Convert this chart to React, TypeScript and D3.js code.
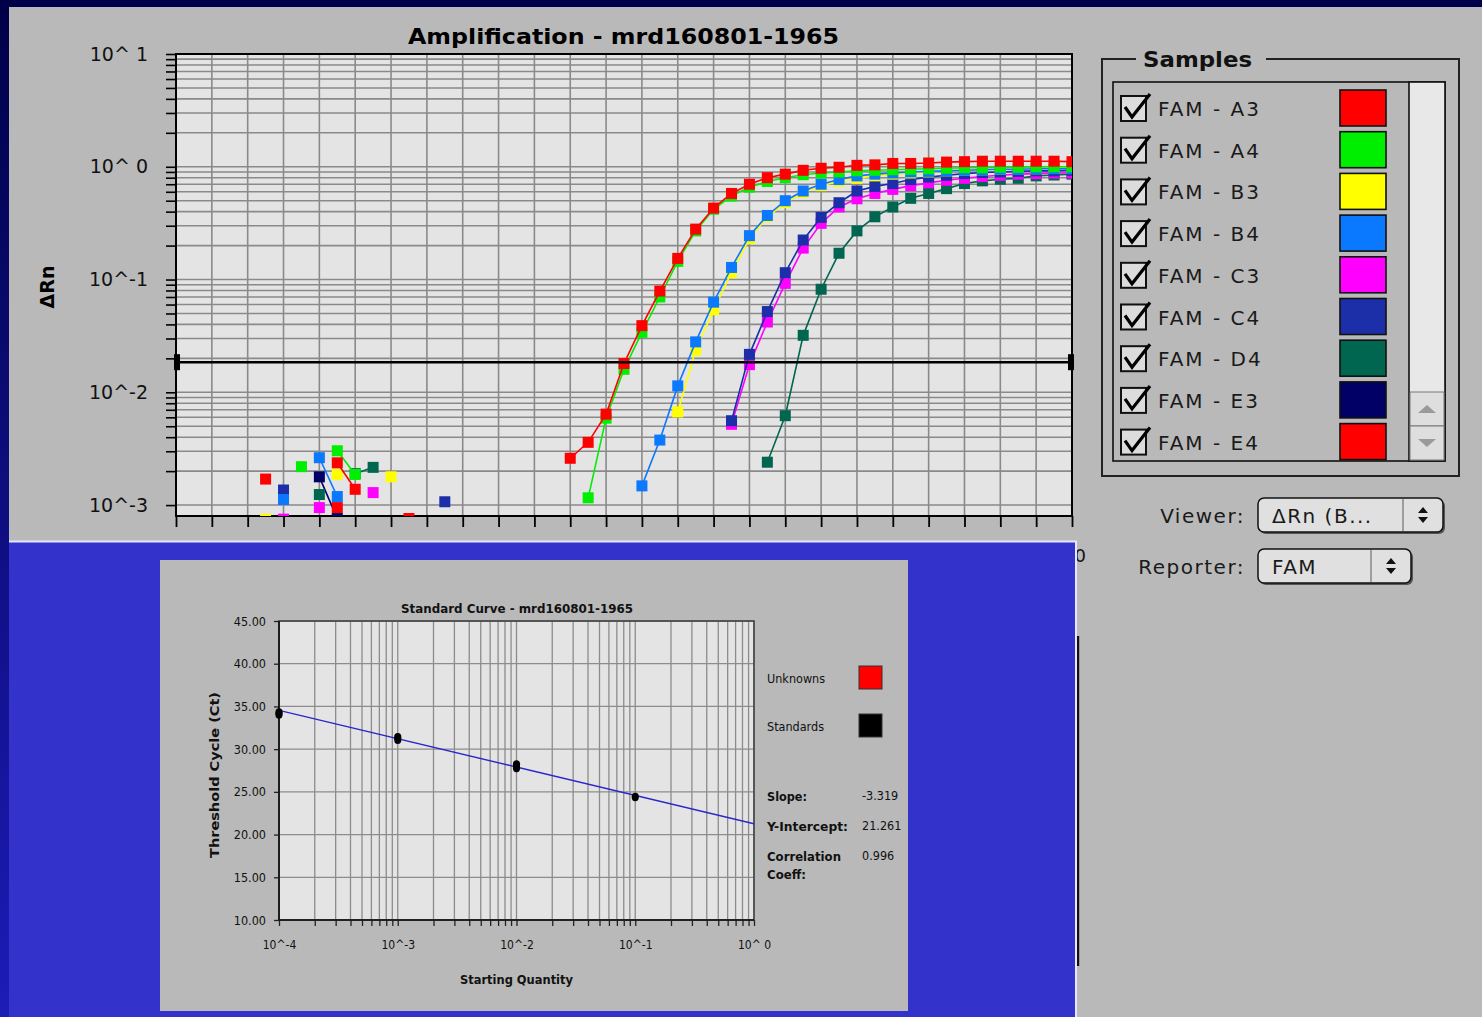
import * as d3 from "d3";
import React, { useRef, useEffect } from "react";

// ---- amplification plot data: [cycle, ΔRn] ----
const sampleNames = ["FAM - A3", "FAM - A4", "FAM - B3", "FAM - B4", "FAM - C3", "FAM - C4", "FAM - D4", "FAM - E3", "FAM - E4"];
const sampleColors = ["#ff0000", "#00ee00", "#ffff00", "#0a78ff", "#ff00ff", "#1d2fa8", "#006650", "#000066", "#ff0000"];

const ampA3 = [[5, .0017], [9, .00237], [10, .00138], [22, .0026], [23, .0036], [24, .0064], [25, .018], [26, .039], [27, .079], [28, .154], [29, .28], [30, .43], [31, .58], [32, .70], [33, .80], [34, .86], [35, .93], [36, .97], [37, .99], [38, 1.03], [39, 1.04], [40, 1.07], [41, 1.07], [42, 1.08], [43, 1.10], [44, 1.11], [45, 1.12], [46, 1.12], [47, 1.12], [48, 1.12], [49, 1.12], [50, 1.11]];
const ampA4 = [[7, .00219], [9, .00303], [10, .00187], [23, .00116], [24, .0059], [25, .016], [26, .034], [27, .070], [28, .145], [29, .27], [30, .42], [31, .55], [32, .66], [33, .74], [34, .80], [35, .85], [36, .88], [37, .90], [38, .92], [39, .93], [40, .94], [41, .95], [42, .96], [43, .97], [44, .98], [45, .98], [46, .99], [47, .99], [48, 1.0], [49, 1.0], [50, 1.0]];
const ampB3 = [[5, .00075], [9, .00187], [12, .00178], [28, .0067], [29, .0237], [30, .054], [31, .115], [32, .23], [33, .36], [34, .48], [35, .59], [36, .68], [37, .74], [38, .79], [39, .83], [40, .86], [41, .88], [42, .90], [43, .92], [44, .93], [45, .94], [46, .95], [47, .96], [48, .96], [49, .97], [50, .97]];
const ampB4 = [[6, .00112], [8, .00263], [9, .00119], [26, .00148], [27, .00377], [28, .0114], [29, .028], [30, .063], [31, .128], [32, .245], [33, .37], [34, .50], [35, .61], [36, .70], [37, .77], [38, .83], [39, .86], [40, .88], [41, .90], [42, .91], [43, .92], [44, .93], [45, .94], [46, .95], [47, .95], [48, .96], [49, .96], [50, .96]];
const ampC3 = [[6, .00075], [8, .00095], [11, .00129], [31, .0052], [32, .0176], [33, .042], [34, .0925], [35, .19], [36, .315], [37, .44], [38, .52], [39, .58], [40, .63], [41, .68], [42, .72], [43, .76], [44, .79], [45, .82], [46, .84], [47, .86], [48, .87], [49, .88], [50, .88]];
const ampC4 = [[6, .00136], [15, .00107], [31, .0056], [32, .0217], [33, .052], [34, .115], [35, .224], [36, .356], [37, .48], [38, .61], [39, .67], [40, .71], [41, .77], [42, .81], [43, .84], [44, .87], [45, .89], [46, .90], [47, .91], [48, .92], [49, .92], [50, .93]];
const ampD4 = [[8, .00124], [10, .0019], [11, .00216], [33, .0024], [34, .0062], [35, .032], [36, .082], [37, .171], [38, .27], [39, .36], [40, .44], [41, .525], [42, .58], [43, .64], [44, .71], [45, .75], [46, .775], [47, .79], [48, .83], [49, .845], [50, .86]];
const ampE3 = [[8, .00178], [9, .00076]];
const ampE4 = [[9, .00095], [13, .00076]];

const ampSeries = [ampA3, ampA4, ampB3, ampB4, ampC3, ampC4, ampD4, ampE3, ampE4];
const drawOrder = [7, 8, 6, 4, 5, 2, 3, 1, 0];
const ampThreshold = 0.0185;
const ampYLabels = ["10^-3", "10^-2", "10^-1", "10^ 0", "10^ 1"];
const cycleTicks = d3.range(0, 51, 2);

// ---- standard curve data ----
const stdQuantity = [1e-4, 1e-4, 1e-3, 1e-3, 1e-2, 1e-2, 1e-1];
const stdCt = [34.05, 34.3, 31.1, 31.4, 27.8, 28.2, 24.4];
const stdSlope = -3.319;
const stdIntercept = 21.261;
const stdCorr = 0.996;
const stdYTicks = [10, 15, 20, 25, 30, 35, 40, 45];
const stdXLabels = ["10^-4", "10^-3", "10^-2", "10^-1", "10^ 0"];

const FONT = "'DejaVu Sans', Verdana, sans-serif";
const NARROW = "'DejaVu Sans Condensed', 'DejaVu Sans', sans-serif";

const App = () => {
    const svgRef = useRef<SVGSVGElement>(null);

    useEffect(() => {
        const svg = d3.select(svgRef.current);
        svg.selectAll("*").remove();

        const defs = svg.append("defs");
        const grad = defs.append("linearGradient").attr("id", "edge").attr("x1", 0).attr("x2", 0).attr("y1", 0).attr("y2", 1);
        grad.append("stop").attr("offset", "0%").attr("stop-color", "#000048");
        grad.append("stop").attr("offset", "100%").attr("stop-color", "#1c1cb8");

        // window background
        svg.append("rect").attr("width", 1482).attr("height", 1017).attr("fill", "#b9b9b9");

        // ============ amplification plot ============
        const mL = 176, mR = 1072, mT = 54, mB = 516;
        const x = d3.scaleLinear().domain([0, 50]).range([mL, mR]);
        const y = d3.scaleLog().domain([0.0008, 10]).range([mB, mT]);

        const yTicks: number[] = [];
        for (let k = -3; k <= 0; k++) for (let m = 1; m <= 9; m++) yTicks.push(m * Math.pow(10, k));
        yTicks.push(10);

        svg.append("rect").attr("x", mL).attr("y", mT).attr("width", mR - mL).attr("height", mB - mT).attr("fill", "#e4e4e4");

        const grid = svg.append("g").attr("stroke", "#8a8a8a").attr("stroke-width", 1.6);
        grid.selectAll("line.h").data(yTicks).join("line").attr("class", "h")
            .attr("x1", mL).attr("x2", mR).attr("y1", d => y(d)).attr("y2", d => y(d));
        grid.selectAll("line.v").data(cycleTicks).join("line").attr("class", "v")
            .attr("x1", d => x(d)).attr("x2", d => x(d)).attr("y1", mT).attr("y2", mB);

        // y axis
        svg.append("g")
            .attr("transform", `translate(${mL},0)`)
            .call(d3.axisLeft(y).tickValues(yTicks).tickSize(10).tickPadding(18)
                .tickFormat(d => {
                    const l = Math.log10(+d);
                    return Math.abs(l - Math.round(l)) < 1e-9 ? ampYLabels[Math.round(l) + 3] : "";
                }))
            .call(g => g.select(".domain").remove())
            .call(g => g.selectAll(".tick line").attr("stroke", "#000").attr("stroke-width", 1.6))
            .call(g => g.selectAll(".tick text").attr("fill", "#111").style("font-size", "19px").style("font-family", FONT));

        // x axis (labels mostly hidden later by the overlay panel)
        svg.append("g")
            .attr("transform", `translate(0,${mB})`)
            .call(d3.axisBottom(x).tickValues(cycleTicks).tickSize(11).tickPadding(22)
                .tickFormat(d => (+d % 10 === 0 ? String(d) : "")))
            .call(g => g.select(".domain").remove())
            .call(g => g.selectAll(".tick line").attr("stroke", "#000").attr("stroke-width", 1.8))
            .call(g => g.selectAll(".tick text").attr("fill", "#111").attr("dx", 2).style("font-size", "18px").style("font-family", FONT));

        svg.append("rect").attr("x", mL).attr("y", mT).attr("width", mR - mL).attr("height", mB - mT)
            .attr("fill", "none").attr("stroke", "#000").attr("stroke-width", 2);

        // title + y label
        svg.append("text").attr("x", 408).attr("y", 44).attr("textLength", 431).attr("lengthAdjust", "spacingAndGlyphs")
            .style("font-family", FONT).style("font-weight", "bold").style("font-size", "21px").attr("fill", "#000")
            .text("Amplification - mrd160801-1965");
        svg.append("text").attr("transform", "translate(54,287) rotate(-90)").attr("text-anchor", "middle")
            .style("font-family", FONT).style("font-weight", "bold").style("font-size", "19px").attr("fill", "#000")
            .text("ΔRn");

        // series
        defs.append("clipPath").attr("id", "ampClip").append("rect")
            .attr("x", mL).attr("y", mT).attr("width", mR - mL).attr("height", mB - mT);
        const series = svg.append("g").attr("clip-path", "url(#ampClip)");
        const line = d3.line<[number, number | null]>()
            .defined(d => d[1] != null)
            .x(d => x(d[0]))
            .y(d => y(d[1] as number));
        drawOrder.forEach(i => {
            const pts = ampSeries[i];
            const lookup = new Map(pts.map(p => [p[0], p[1]]));
            const dense: [number, number | null][] = d3.range(0, 51).map(c => [c, lookup.has(c) ? (lookup.get(c) as number) : null]);
            const g = series.append("g");
            g.append("path").attr("d", line(dense)).attr("fill", "none")
                .attr("stroke", sampleColors[i]).attr("stroke-width", 1.6);
            g.selectAll("rect").data(pts).join("rect")
                .attr("x", d => x(d[0]) - 5.5).attr("y", d => y(d[1]) - 5.5)
                .attr("width", 11).attr("height", 11).attr("fill", sampleColors[i]);
        });

        // threshold
        const ty = y(ampThreshold);
        svg.append("line").attr("x1", mL).attr("x2", mR).attr("y1", ty).attr("y2", ty)
            .attr("stroke", "#000").attr("stroke-width", 2.4);
        [mL - 2, mR - 4].forEach(hx => {
            svg.append("rect").attr("x", hx).attr("y", ty - 8).attr("width", 6).attr("height", 16).attr("fill", "#000");
        });

        // ============ samples panel ============
        const panel = svg.append("g").style("font-family", FONT);
        panel.append("rect").attr("x", 1102).attr("y", 59).attr("width", 357).attr("height", 417)
            .attr("fill", "none").attr("stroke", "#222").attr("stroke-width", 2);
        panel.append("rect").attr("x", 1136).attr("y", 45).attr("width", 130).attr("height", 26).attr("fill", "#b9b9b9");
        panel.append("text").attr("x", 1143).attr("y", 67).attr("textLength", 109).attr("lengthAdjust", "spacingAndGlyphs")
            .style("font-weight", "bold").style("font-size", "22px").attr("fill", "#111").text("Samples");

        defs.append("clipPath").attr("id", "listClip").append("rect")
            .attr("x", 1113).attr("y", 82).attr("width", 296).attr("height", 379);
        const list = panel.append("g").attr("clip-path", "url(#listClip)");
        const rowY = d3.scaleLinear().domain([0, 1]).range([108, 149.7]);
        sampleNames.forEach((name, i) => {
            const cy = rowY(i);
            list.append("rect").attr("x", 1121).attr("y", cy - 12).attr("width", 25).attr("height", 25)
                .attr("fill", "#dcdcdc").attr("stroke", "#111").attr("stroke-width", 2);
            list.append("path").attr("d", `M${1125},${cy - 1} L${1132},${cy + 9} L${1150},${cy - 14}`)
                .attr("fill", "none").attr("stroke", "#000").attr("stroke-width", 3.2);
            list.append("text").attr("x", 1158).attr("y", cy + 8).style("font-size", "20px")
                .style("letter-spacing", "2px").attr("fill", "#1a1a1a").text(name);
            list.append("rect").attr("x", 1340).attr("y", cy - 18).attr("width", 46).attr("height", 36)
                .attr("fill", sampleColors[i]).attr("stroke", "#111").attr("stroke-width", 1.6);
        });
        panel.append("rect").attr("x", 1113).attr("y", 82).attr("width", 332).attr("height", 379)
            .attr("fill", "none").attr("stroke", "#111").attr("stroke-width", 1.6);
        // scrollbar
        panel.append("rect").attr("x", 1409).attr("y", 82).attr("width", 36).attr("height", 379)
            .attr("fill", "#e8e8e8").attr("stroke", "#111").attr("stroke-width", 1.6);
        [[392, -1], [426, 1]].forEach(([by, dir]) => {
            panel.append("rect").attr("x", 1410).attr("y", by).attr("width", 34).attr("height", 34)
                .attr("fill", "#dedede").attr("stroke", "#777").attr("stroke-width", 1);
            const cx = 1427, cyy = by + 17;
            panel.append("path")
                .attr("d", `M${cx - 9},${cyy - dir * 4} L${cx + 9},${cyy - dir * 4} L${cx},${cyy + dir * 4} Z`)
                .attr("fill", "#9a9a9a");
        });

        // popup menus
        const popup = (label: string, value: string, yTop: number, xEnd: number) => {
            const h = 34, x0 = 1258;
            panel.append("text").attr("x", 1245).attr("y", yTop + 25).attr("text-anchor", "end")
                .style("font-size", "20px").style("letter-spacing", "1.5px").attr("fill", "#1a1a1a").text(label);
            panel.append("rect").attr("x", x0 + 2).attr("y", yTop + 2).attr("width", xEnd - x0).attr("height", h)
                .attr("rx", 6).attr("fill", "#555");
            panel.append("rect").attr("x", x0).attr("y", yTop).attr("width", xEnd - x0).attr("height", h)
                .attr("rx", 6).attr("fill", "#e0e0e0").attr("stroke", "#111").attr("stroke-width", 1.5);
            panel.append("line").attr("x1", xEnd - 40).attr("x2", xEnd - 40).attr("y1", yTop + 1).attr("y2", yTop + h - 1)
                .attr("stroke", "#888").attr("stroke-width", 1.5);
            const ax = xEnd - 20, ay = yTop + h / 2;
            panel.append("path").attr("d", `M${ax - 5},${ay - 2} L${ax + 5},${ay - 2} L${ax},${ay - 8} Z M${ax - 5},${ay + 2} L${ax + 5},${ay + 2} L${ax},${ay + 8} Z`)
                .attr("fill", "#111");
            panel.append("text").attr("x", 1272).attr("y", yTop + 25).style("font-size", "20px")
                .style("letter-spacing", "1.5px").attr("fill", "#1a1a1a").text(value);
        };
        popup("Viewer:", "ΔRn (B...", 498, 1443);
        popup("Reporter:", "FAM", 549, 1411);

        // stray window frame line on the right
        svg.append("line").attr("x1", 1078).attr("x2", 1078).attr("y1", 636).attr("y2", 966)
            .attr("stroke", "#111").attr("stroke-width", 2.4);

        // ============ overlay panel with standard curve ============
        svg.append("rect").attr("x", 9).attr("y", 541).attr("width", 1067).attr("height", 476).attr("fill", "#3333cc");
        svg.append("path").attr("d", "M9,541.5 L1076,541.5 L1076,1017").attr("fill", "none")
            .attr("stroke", "#e6e6ff").attr("stroke-width", 2);
        svg.append("rect").attr("x", 160).attr("y", 560).attr("width", 748).attr("height", 451).attr("fill", "#b9b9b9");

        const sL = 279, sR = 754, sT = 621, sB = 920;
        const sx = d3.scaleLog().domain([1e-4, 1]).range([sL, sR]);
        const sy = d3.scaleLinear().domain([10, 45]).range([sB, sT]);
        const sxTicks: number[] = [];
        for (let k = -4; k <= -1; k++) for (let m = 1; m <= 9; m++) sxTicks.push(m * Math.pow(10, k));
        sxTicks.push(1);

        const std = svg.append("g");
        std.append("rect").attr("x", sL).attr("y", sT).attr("width", sR - sL).attr("height", sB - sT).attr("fill", "#e4e4e4");
        const sg = std.append("g").attr("stroke", "#8c8c8c").attr("stroke-width", 1.3);
        sg.selectAll("line.v").data(sxTicks).join("line").attr("class", "v")
            .attr("x1", d => sx(d)).attr("x2", d => sx(d)).attr("y1", sT).attr("y2", sB);
        sg.selectAll("line.h").data(stdYTicks).join("line").attr("class", "h")
            .attr("x1", sL).attr("x2", sR).attr("y1", d => sy(d)).attr("y2", d => sy(d));

        std.append("g").attr("transform", `translate(${sL},0)`)
            .call(d3.axisLeft(sy).tickValues(stdYTicks).tickSize(5).tickPadding(8).tickFormat(d => (+d).toFixed(2)))
            .call(g => g.select(".domain").remove())
            .call(g => g.selectAll(".tick line").attr("stroke", "#222").attr("stroke-width", 1.3))
            .call(g => g.selectAll(".tick text").attr("fill", "#111").style("font-size", "12.5px").style("font-family", NARROW));
        std.append("g").attr("transform", `translate(0,${sB})`)
            .call(d3.axisBottom(sx).tickValues(sxTicks).tickSize(6).tickPadding(14)
                .tickFormat(d => {
                    const l = Math.log10(+d);
                    return Math.abs(l - Math.round(l)) < 1e-9 ? stdXLabels[Math.round(l) + 4] : "";
                }))
            .call(g => g.select(".domain").remove())
            .call(g => g.selectAll(".tick line").attr("stroke", "#222").attr("stroke-width", 1.3))
            .call(g => g.selectAll(".tick text").attr("fill", "#111").style("font-size", "12px").style("font-family", NARROW));

        std.append("rect").attr("x", sL).attr("y", sT).attr("width", sR - sL).attr("height", sB - sT)
            .attr("fill", "none").attr("stroke", "#444").attr("stroke-width", 1.6);
        std.append("path").attr("d", `M${sL},${sT} L${sL},${sB} L${sR},${sB}`).attr("fill", "none")
            .attr("stroke", "#111").attr("stroke-width", 1.6);

        // regression line from the reported slope / intercept
        defs.append("clipPath").attr("id", "stdClip").append("rect")
            .attr("x", sL).attr("y", sT).attr("width", sR - sL).attr("height", sB - sT);
        const fit = (q: number) => stdSlope * Math.log10(q) + stdIntercept;
        std.append("line").attr("clip-path", "url(#stdClip)")
            .attr("x1", sx(1e-4)).attr("y1", sy(fit(1e-4))).attr("x2", sx(1)).attr("y2", sy(fit(1)))
            .attr("stroke", "#2626cc").attr("stroke-width", 1.4);
        std.selectAll("ellipse").data(stdQuantity).join("ellipse")
            .attr("cx", d => sx(d)).attr("cy", (d, i) => sy(stdCt[i]))
            .attr("rx", 3.6).attr("ry", 4.2).attr("fill", "#000");

        const bold = (t: string, xx: number, yy: number, len?: number, anchor = "start") => {
            const el = std.append("text").attr("x", xx).attr("y", yy).attr("text-anchor", anchor)
                .style("font-family", FONT).style("font-weight", "bold").style("font-size", "12.5px").attr("fill", "#111").text(t);
            if (len) el.attr("textLength", len).attr("lengthAdjust", "spacingAndGlyphs");
            return el;
        };
        const plain = (t: string, xx: number, yy: number) =>
            std.append("text").attr("x", xx).attr("y", yy)
                .style("font-family", NARROW).style("font-size", "12.5px").attr("fill", "#111").text(t);

        bold("Standard Curve - mrd160801-1965", 401, 613, 232);
        bold("Starting Quantity", 460, 984, 113);
        std.append("text").attr("transform", "translate(219,775) rotate(-90)").attr("text-anchor", "middle")
            .attr("textLength", 166).attr("lengthAdjust", "spacingAndGlyphs")
            .style("font-family", FONT).style("font-weight", "bold").style("font-size", "12.5px").attr("fill", "#111")
            .text("Threshold Cycle (Ct)");

        plain("Unknowns", 767, 683);
        std.append("rect").attr("x", 859).attr("y", 666).attr("width", 23).attr("height", 23)
            .attr("fill", "#ff0000").attr("stroke", "#333").attr("stroke-width", 1);
        plain("Standards", 767, 731);
        std.append("rect").attr("x", 859).attr("y", 714).attr("width", 23).attr("height", 23)
            .attr("fill", "#000").attr("stroke", "#333").attr("stroke-width", 1);

        bold("Slope:", 767, 801, 40);
        plain(stdSlope.toFixed(3), 862, 800);
        bold("Y-Intercept:", 767, 831, 81);
        plain(stdIntercept.toFixed(3), 862, 830);
        bold("Correlation", 767, 861, 74);
        bold("Coeff:", 767, 879, 39);
        plain(stdCorr.toFixed(3), 862, 860);

        // outer dark frame
        svg.append("rect").attr("x", 0).attr("y", 0).attr("width", 1482).attr("height", 7).attr("fill", "#00004a");
        svg.append("rect").attr("x", 0).attr("y", 0).attr("width", 9).attr("height", 1017).attr("fill", "url(#edge)");
    }, []);

    return (
        <div style={{ position: "absolute", left: 0, top: 0 }}>
            <svg ref={svgRef} width={1482} height={1017} style={{ display: "block" }} />
        </div>
    );
};

export default App;
